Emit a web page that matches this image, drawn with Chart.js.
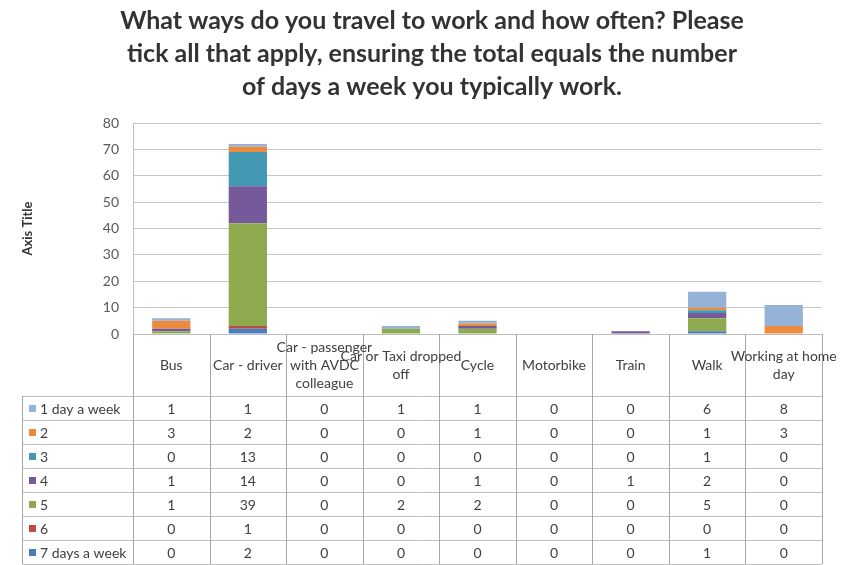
<!DOCTYPE html>
<html>
<head>
<meta charset="utf-8">
<script src="https://cdn.jsdelivr.net/npm/chart.js@4.4.0/dist/chart.umd.min.js"></script>
<style>
  html, body { margin: 0; padding: 0; background: #fff; }
</style>
</head>
<body>
<canvas id="grafico" width="843" height="565"></canvas>
<script>
const categorias = ['Bus', 'Car - driver', ['Car - passenger', 'with AVDC', 'colleague'],
  ['Car or Taxi dropped', 'off'], 'Cycle', 'Motorbike', 'Train', 'Walk', ['Working at home', 'day']];

const umDia = [1, 1, 0, 1, 1, 0, 0, 6, 8];
const doisDias = [3, 2, 0, 0, 1, 0, 0, 1, 3];
const tresDias = [0, 13, 0, 0, 0, 0, 0, 1, 0];
const quatroDias = [1, 14, 0, 0, 1, 0, 1, 2, 0];
const cincoDias = [1, 39, 0, 2, 2, 0, 0, 5, 0];
const seisDias = [0, 1, 0, 0, 0, 0, 0, 0, 0];
const seteDias = [0, 2, 0, 0, 0, 0, 0, 1, 0];

const yTicks = [0, 10, 20, 30, 40, 50, 60, 70, 80];

// bottom of stack first
const series = [
  { label: '7 days a week', data: seteDias, cor: '#4A7EBB' },
  { label: '6', data: seisDias, cor: '#BE4B48' },
  { label: '5', data: cincoDias, cor: '#8DAA4F' },
  { label: '4', data: quatroDias, cor: '#75599A' },
  { label: '3', data: tresDias, cor: '#4398B2' },
  { label: '2', data: doisDias, cor: '#EC8A3E' },
  { label: '1 day a week', data: umDia, cor: '#95B3D7' }
];

const FONTE = 'Lato, Calibri, "Liberation Sans", sans-serif';
const ROW_H = 24;
const HEAD_H = 62;

// data table under the plot (drawn from the x scale)
const tabelaPlugin = {
  id: 'tabela',
  afterDraw(chart) {
    const ctx = chart.ctx;
    const x = chart.scales.x;
    const area = chart.chartArea;
    const n = categorias.length;
    const colW = (area.right - area.left) / n;
    const top = area.bottom;
    const bodyTop = top + HEAD_H;
    const legLeft = 22.5;
    ctx.save();

    // horizontal lines
    ctx.strokeStyle = '#bfbfbf';
    ctx.lineWidth = 1;
    for (let r = 0; r <= series.length; r++) {
      const y = Math.round(bodyTop + r * ROW_H) + 0.5;
      ctx.beginPath();
      ctx.moveTo(legLeft, y);
      ctx.lineTo(area.right, y);
      ctx.stroke();
    }
    // vertical lines
    ctx.strokeStyle = '#a6a6a6';
    for (let i = 0; i <= n; i++) {
      const xx = Math.round(area.left + i * colW) + 0.5;
      ctx.beginPath();
      ctx.moveTo(xx, top);
      ctx.lineTo(xx, bodyTop + series.length * ROW_H);
      ctx.stroke();
    }
    ctx.beginPath();
    ctx.moveTo(legLeft, bodyTop);
    ctx.lineTo(legLeft, bodyTop + series.length * ROW_H);
    ctx.stroke();

    // header labels
    ctx.fillStyle = '#404040';
    ctx.font = '14px ' + FONTE;
    ctx.textAlign = 'center';
    ctx.textBaseline = 'middle';
    categorias.forEach((c, i) => {
      const cx = x.getPixelForValue(i);
      const linhas = Array.isArray(c) ? c : [c];
      const meio = top + 31;
      linhas.forEach((l, k) => {
        ctx.fillText(l, cx, meio + (k - (linhas.length - 1) / 2) * 18);
      });
    });

    // rows: top row is the last series
    const linhasTab = series.slice().reverse();
    linhasTab.forEach((s, r) => {
      const cy = bodyTop + r * ROW_H + ROW_H / 2 + 1;
      ctx.fillStyle = s.cor;
      ctx.fillRect(29, cy - 4, 7, 7);
      ctx.fillStyle = '#404040';
      ctx.textAlign = 'left';
      ctx.fillText(s.label, 40, cy);
      ctx.textAlign = 'center';
      s.data.forEach((v, i) => {
        ctx.fillText(String(v), x.getPixelForValue(i), cy);
      });
    });
    ctx.restore();
  }
};

new Chart(document.getElementById('grafico'), {
  type: 'bar',
  data: {
    labels: categorias,
    datasets: series.map(s => ({
      label: s.label,
      data: s.data,
      backgroundColor: s.cor,
      borderWidth: 0,
      barPercentage: 1,
      categoryPercentage: 0.5
    }))
  },
  options: {
    responsive: false,
    animation: false,
    devicePixelRatio: 1,
    layout: { padding: { left: 42, right: 21, top: 0, bottom: 231 } },
    plugins: {
      legend: { display: false },
      tooltip: { enabled: false },
      title: {
        display: true,
        text: ['What ways do you travel to work and how often? Please',
          'tick all that apply, ensuring the total equals the number',
          'of days a week you typically work.'],
        color: '#333333',
        font: { family: FONTE, size: 25, weight: 'bold', lineHeight: 1.32 },
        padding: { top: 4, bottom: 20 }
      }
    },
    scales: {
      x: {
        stacked: true,
        ticks: { display: false },
        grid: { display: false, drawTicks: false },
        border: { display: true, color: '#bfbfbf' },
        afterFit(s) { s.height = 0; }
      },
      y: {
        stacked: true,
        min: 0,
        max: 80,
        afterBuildTicks(s) { s.ticks = yTicks.map(v => ({ value: v })); },
        ticks: { color: '#595959', font: { family: FONTE, size: 14 }, padding: 14 },
        grid: { color: '#c8c8c8', drawTicks: false },
        border: { display: true, color: '#bfbfbf' },
        title: {
          display: true,
          text: 'Axis Title',
          color: '#333333',
          font: { family: FONTE, size: 13, weight: 'bold' },
          padding: { top: -22, bottom: 0 }
        },
        afterFit(s) { s.width = 91; }
      }
    }
  },
  plugins: [tabelaPlugin]
});
</script>
</body>
</html>
